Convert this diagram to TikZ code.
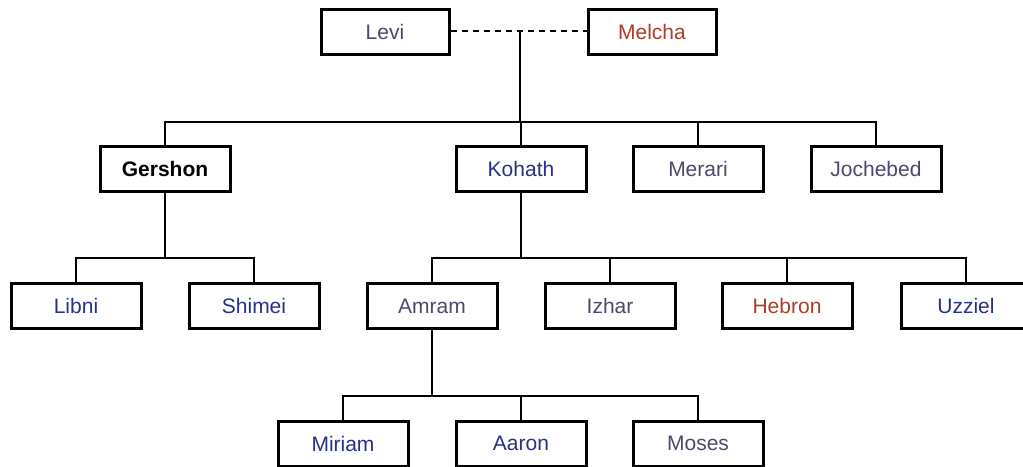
\documentclass[tikz,border=0pt]{standalone}
\usepackage{fontspec}
\setmainfont{Liberation Sans}
\definecolor{cgray}{RGB}{78,72,110}
\definecolor{cred}{RGB}{172,62,40}
\definecolor{cblue}{RGB}{38,50,135}
\begin{document}
\begin{tikzpicture}[x=1pt,y=-1pt,
  person/.style={draw=black,line width=3pt,minimum width=130pt,minimum height=45pt,inner sep=0pt,fill=white,font=\fontsize{21}{24}\selectfont},
  link/.style={line width=1.4pt}]
\useasboundingbox[fill=white] (0,0) rectangle (1023,466);
% nodes
\node[person,minimum width=128pt,text=cgray] (levi) at (385,31.5) {Levi};
\node[person,minimum width=128pt,text=cred] (melcha) at (652,31.5) {Melcha};
\node[person,text=black,font=\fontsize{21}{24}\selectfont\bfseries] (gershon) at (165,168.5) {Gershon};
\node[person,text=cblue] (kohath) at (521,168.5) {Kohath};
\node[person,text=cgray] (merari) at (698,168.5) {Merari};
\node[person,text=cgray] (jochebed) at (876,168.5) {Jochebed};
\node[person,text=cblue] (libni) at (76,306) {Libni};
\node[person,text=cblue] (shimei) at (254,306) {Shimei};
\node[person,text=cgray] (amram) at (432,306) {Amram};
\node[person,text=cgray] (izhar) at (610,306) {Izhar};
\node[person,text=cred] (hebron) at (787,306) {Hebron};
\node[person,text=cblue] (uzziel) at (966,306) {Uzziel};
\node[person,text=cblue] (miriam) at (343,443.5) {Miriam};
\node[person,text=cblue] (aaron) at (521,443.5) {Aaron};
\node[person,text=cgray] (moses) at (698,443.5) {Moses};
% junctions
\coordinate (m0) at (520,32);
\coordinate (b0) at (520,122);
\coordinate (b1) at (165,258);
\coordinate (b2) at (521,258);
\coordinate (b3) at (432,396);
% connectors
\draw[line width=1.8pt,dash pattern=on 6pt off 5pt] ([yshift=0.5pt]levi.east) -- ([yshift=0.5pt]melcha.west);
\draw[link] (m0) -- (b0);
\draw[link] (b0) -| (gershon.north);
\draw[link] (b0) -| (merari.north);
\draw[link] (b0) -| (jochebed.north);
\draw[link] (b0) -| (kohath.north);
\draw[link] (gershon.south) -- (b1);
\draw[link] (b1) -| (libni.north);
\draw[link] (b1) -| (shimei.north);
\draw[link] (kohath.south) -- (b2);
\draw[link] (b2) -| (amram.north);
\draw[link] (b2) -| (izhar.north);
\draw[link] (b2) -| (hebron.north);
\draw[link] (b2) -| (uzziel.north);
\draw[link] (amram.south) -- (b3);
\draw[link] (b3) -| (miriam.north);
\draw[link] (b3) -| (aaron.north);
\draw[link] (b3) -| (moses.north);
\end{tikzpicture}
\end{document}
